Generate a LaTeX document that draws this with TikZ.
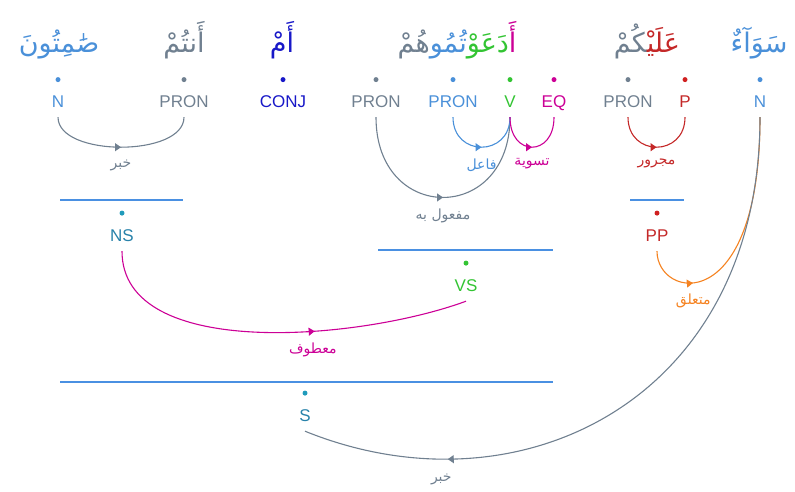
\documentclass[tikz,border=0pt]{standalone}
\usepackage{fontspec}
\setmainfont{Liberation Sans}
\newfontfamily\arabicfont[Script=Arabic]{DejaVu Sans}
\TeXXeTstate=1
\usetikzlibrary{arrows.meta,decorations.markings,positioning}
\definecolor{nblue}{RGB}{74,144,217}
\definecolor{slate}{RGB}{112,128,144}
\definecolor{conjblue}{RGB}{24,24,200}
\definecolor{vgreen}{RGB}{51,196,51}
\definecolor{eqmag}{RGB}{204,0,150}
\definecolor{pred}{RGB}{196,40,40}
\definecolor{phteal}{RGB}{40,130,170}
\definecolor{spanblue}{RGB}{74,144,226}
\definecolor{relorange}{RGB}{245,130,32}
\tikzset{%
  >={Triangle[length=6pt,width=8pt]},
  % Specifications for style of nodes:
            word/.style = {anchor=base, inner sep=0pt,
                           font=\arabicfont\fontsize{27}{30}\selectfont},
             tag/.style = {text height=12pt, text depth=0pt, inner xsep=2pt,
                           inner ysep=10pt, font=\fontsize{17}{20}\selectfont},
          posdot/.style = {circle, inner sep=0pt, minimum size=5pt, fill=#1},
             rel/.style = {inner sep=1pt, font=\arabicfont\fontsize{14}{16}\selectfont},
             dep/.style = {line width=1.1pt, postaction={decorate},
                           decoration={markings, mark=at position #1 with {\arrow{>}}}},
           dep/.default = 0.5,
            span/.style = {draw=spanblue, line width=1.2pt},
}
\begin{document}
\begin{tikzpicture}[x=1pt, y=1pt]
  \useasboundingbox (0,0) rectangle (795,-491);

  % words
  \node (w-samitun)  [word, text=nblue]    at (59,-52)  {صَٰمِتُونَ};
  \node (w-antum)    [word, text=slate]    at (184,-52) {أَنتُمْ};
  \node (w-am)       [word, text=conjblue] at (282,-52) {أَمْ};
  \node (w-adaawtum) [word]                at (457,-52)
        {\textcolor{slate}{هُمْ}\textcolor{nblue}{تُمُو}\textcolor{vgreen}{دَعَوْ}\textcolor{eqmag}{أَ}};
  \node (w-alaykum)  [word]                at (647,-52)
        {\textcolor{slate}{^^^^200dكُمْ}\textcolor{pred}{عَلَيْ^^^^200d}};
  \node (w-sawaa)    [word, text=nblue]    at (759,-52) {سَوَآءٌ};

  % part-of-speech tags
  \node (t-n1)    [tag, text=nblue]    at (58,-101)  {N};
  \node (t-pron1) [tag, text=slate]    at (184,-101) {PRON};
  \node (t-conj)  [tag, text=conjblue] at (283,-101) {CONJ};
  \node (t-pron2) [tag, text=slate]    at (376,-101) {PRON};
  \node (t-pron3) [tag, text=nblue]    at (453,-101) {PRON};
  \node (t-v)     [tag, text=vgreen]   at (510,-101) {V};
  \node (t-eq)    [tag, text=eqmag]    at (554,-101) {EQ};
  \node (t-pron4) [tag, text=slate]    at (628,-101) {PRON};
  \node (t-p)     [tag, text=pred]     at (685,-101) {P};
  \node (t-n2)    [tag, text=nblue]    at (760,-101) {N};

  \node (d-n1)    [posdot=nblue,    above=2.5pt of t-n1]    {};
  \node (d-pron1) [posdot=slate,    above=2.5pt of t-pron1] {};
  \node (d-conj)  [posdot=conjblue, above=2.5pt of t-conj]  {};
  \node (d-pron2) [posdot=slate,    above=2.5pt of t-pron2] {};
  \node (d-pron3) [posdot=nblue,    above=2.5pt of t-pron3] {};
  \node (d-v)     [posdot=vgreen,   above=2.5pt of t-v]     {};
  \node (d-eq)    [posdot=eqmag,    above=2.5pt of t-eq]    {};
  \node (d-pron4) [posdot=slate,    above=2.5pt of t-pron4] {};
  \node (d-p)     [posdot=pred!80!red, above=2.5pt of t-p]  {};
  \node (d-n2)    [posdot=nblue,    above=2.5pt of t-n2]    {};

  % phrases
  \draw[span] (60,-200) -- (183,-200);
  \draw[span] (630,-200) -- (684,-200);
  \draw[span] (378,-250) -- (553,-250);
  \draw[span] (60,-382) -- (553,-382);

  \node (ns) [tag, text=phteal] at (122,-235) {NS};
  \node (pp) [tag, text=pred]   at (657,-235) {PP};
  \node (vs) [tag, text=vgreen] at (466,-285) {VS};
  \node (s)  [tag, text=phteal] at (305,-415) {S};

  \node (d-ns) [posdot=phteal!80!cyan, above=3pt of ns] {};
  \node (d-pp) [posdot=pred!80!red,    above=3pt of pp] {};
  \node (d-vs) [posdot=vgreen,         above=3pt of vs] {};
  \node (d-s)  [posdot=phteal!80!cyan, above=3pt of s]  {};

  % dependencies
  \draw[dep, slate] (t-n1.south) .. controls +(0,-40) and +(0,-40)
      .. node [rel, below=11pt, text=slate] {\beginR خبر\endR} (t-pron1.south);
  \draw[dep, slate] (t-pron2.south) .. controls +(0,-107) and +(0,-107)
      .. node [rel, below=10pt, text=slate] {\beginR مفعول به\endR} (t-v.south);
  \draw[dep, nblue] (t-pron3.south) .. controls +(0,-40) and +(0,-40)
      .. node [rel, below=10pt, text=nblue] {\beginR فاعل\endR} (t-v.south);
  \draw[dep, eqmag] (t-v.south) .. controls +(0,-40) and +(0,-40)
      .. node [rel, below=10pt, text=eqmag] {\beginR تسوية\endR} (t-eq.south);
  \draw[dep, pred] (t-pron4.south) .. controls +(0,-40) and +(0,-40)
      .. node [rel, below=10pt, text=pred] {\beginR مجرور\endR} (t-p.south);

  \draw[dep=0.6, eqmag] (ns.south) .. controls +(0,-110) and +(-106,-39)
      .. node [rel, below=10pt, pos=0.63, text=eqmag] {\beginR معطوف\endR} (vs.south);
  \draw[dep=0.22, relorange] (pp.south) .. controls +(0,-48) and +(0,-202)
      .. node [rel, below=9pt, pos=0.4, text=relorange] {\beginR متعلق\endR} (t-n2.south);
  \draw[dep=0.78, slate] (t-n2.south) .. controls +(0,-282) and +(215,-87)
      .. node [rel, below=13pt, pos=0.79, text=slate] {\beginR خبر\endR} (s.south);

\end{tikzpicture}
\end{document}
